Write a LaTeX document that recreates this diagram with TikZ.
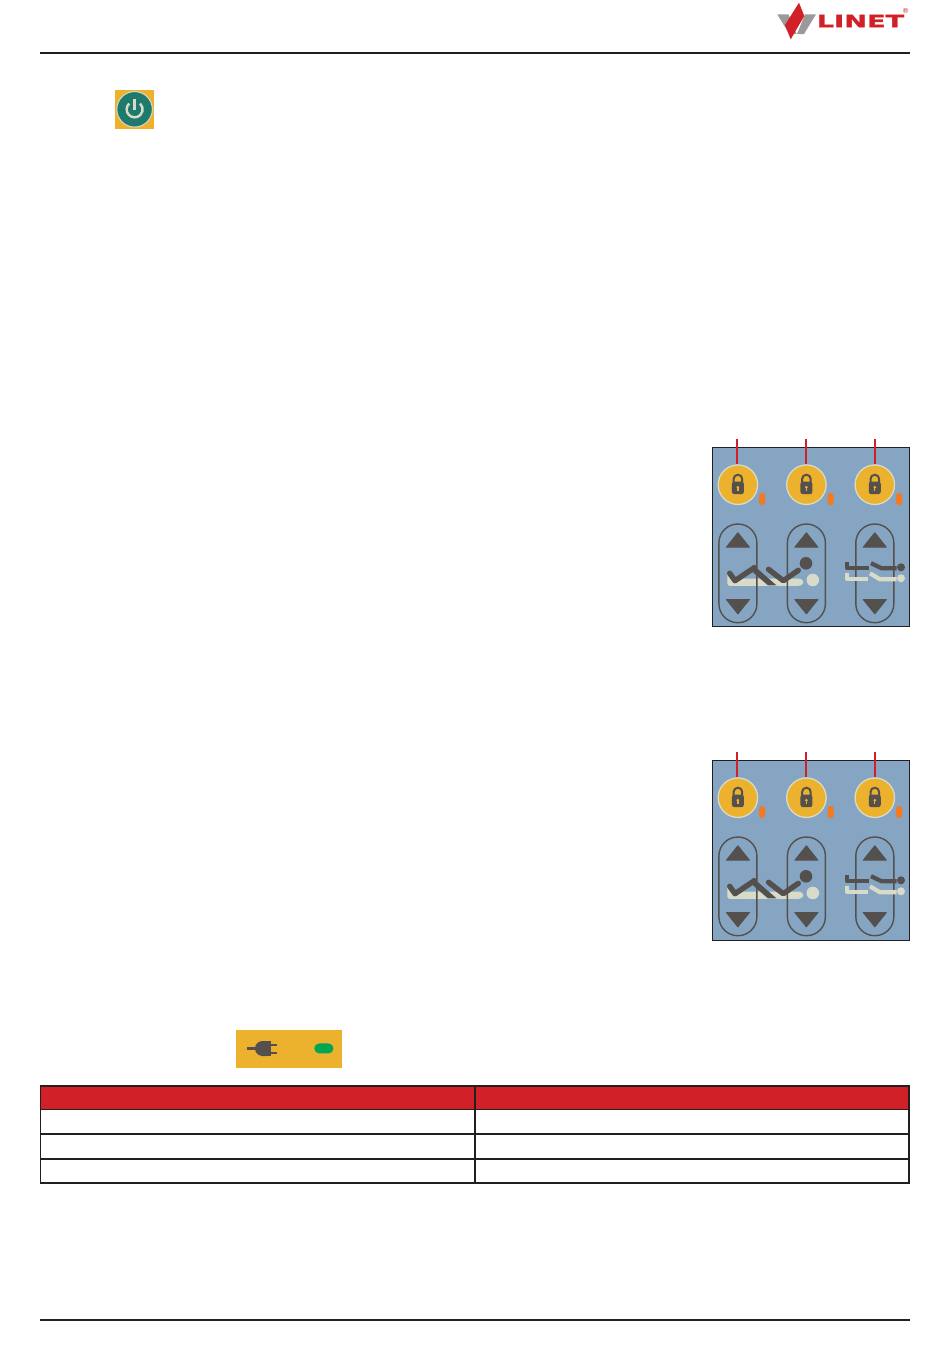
\documentclass[tikz,border=0pt]{standalone}
\usepackage{fontspec}
\setmainfont{DejaVu Sans}
\newfontfamily\logofont[BoldFeatures={FakeBold=1.2}]{DejaVu Sans}
\definecolor{ink}{HTML}{231F20}
\definecolor{brandred}{HTML}{D12027}
\definecolor{logogray}{HTML}{9A9A9A}
\definecolor{panelblue}{HTML}{85A5C2}
\definecolor{amber}{HTML}{EDB22D}
\definecolor{creamy}{HTML}{D8DBC8}
\definecolor{slate}{HTML}{53504E}
\definecolor{ledorange}{HTML}{F47920}
\definecolor{ledgreen}{HTML}{00A651}
\definecolor{powerteal}{HTML}{1F7A6E}
\tikzset{
  rulebar/.style={draw=ink,line width=1.5pt},
  lockbtn/.style={circle,fill=amber,draw=creamy,line width=1.3pt,minimum size=39.5pt,inner sep=0pt},
  leader/.style={draw=brandred,line width=1.7pt},
  ledpill/.style={fill=ledorange,rounded corners=2.6pt},
  capsule/.style={draw=slate,line width=1.4pt,rounded corners=18.9pt},
  arrowtri/.style={fill=slate,draw=slate,line width=1pt,line join=round},
  darkstroke/.style={draw=slate,line width=5.4pt,line join=round,line cap=round},
  creamstroke/.style={draw=creamy,line width=4.2pt,line join=round},
  darkthin/.style={draw=slate,line width=4.2pt,line join=round},
  tablegrid/.style={draw=ink,line width=1.5pt},
}
\newcommand{\panelcolumn}[4]{%
  % #1 name, #2 x of button centre, #3 vertical offset, #4 leader x offset
  \begin{scope}[shift={(#2,#3)}]
    \draw[capsule] (-19,524) rectangle (19,622.7);
    \fill[arrowtri] (0,532.8) -- (11.5,547.2) -- (-11.5,547.2) -- cycle;
    \fill[arrowtri] (0,613.8) -- (11.5,599.5) -- (-11.5,599.5) -- cycle;
    \node[lockbtn] (#1) at (0,484.7) {};
    \coordinate (#1top) at (#4,439);
    \draw[leader] (#1top) -- (#1top |- #1.north);
    \draw[slate,line width=2pt] (-4.3,482) -- (-4.3,479) arc[start angle=180,end angle=360,radius=4.3] -- (4.3,482);
    \fill[slate,rounded corners=2.5pt] (-6,481.5) rectangle (6,494.2);
    \fill[amber] (0,487.2) circle[radius=1.5];
    \fill[amber] (-0.6,487.2) rectangle (0.6,491);
    \fill[ledpill] (21.3,493) rectangle (27.3,505);
  \end{scope}%
}
\newcommand{\bedpanel}[3]{%
  % #1 name prefix, #2 vertical offset, #3 bottom edge
  \begin{scope}[shift={(0,#2)}]
    \draw[draw=ink,fill=panelblue,line width=1pt] (712.7,447.7) rectangle (909.4,#3);
    % cream bed (first figure)
    \fill[creamy,rounded corners=2.5pt] (727.3,572.5) -- (727.3,585.8) -- (801,585.8) -- (804.3,582.2) -- (801,578.5) -- (731,578.5) -- (731,572.5) -- cycle;
    \fill[creamy] (812.8,580) circle[radius=6.3];
    \panelcolumn{#1a}{737.9}{0}{-1.2}
    \panelcolumn{#1b}{806.4}{0}{-0.4}
    \panelcolumn{#1c}{874.8}{0}{-0.1}
    % dark figure
    \draw[darkstroke] (729.7,573.3) -- (735,580.7) -- (754.3,567.7);
    \fill[slate] (753,564.8) -- (776.5,585.4) -- (768,585.4) -- (751.5,571) -- cycle;
    \draw[darkstroke] (768.5,569.3) -- (783.3,580.7) -- (798.3,570.3);
    \fill[slate] (806,563.3) circle[radius=6.3];
    % side figure: dark
    \draw[darkthin] (847.3,561.5) -- (847.3,568.3) -- (869,568.3);
    \draw[darkthin] (871,563.2) -- (881.7,568.3) -- (896.7,568.3);
    \fill[slate] (901,567.3) circle[radius=4];
    % side figure: cream
    \draw[creamstroke] (847.3,572.5) -- (847.3,579.3) -- (868,579.3);
    \draw[creamstroke] (870,573.3) -- (880,579.3) -- (896.7,579.3);
    \fill[creamy] (901,578.3) circle[radius=4];
  \end{scope}%
}
\begin{document}
\begin{tikzpicture}[x=1pt,y=-1pt]
\useasboundingbox (0,0) rectangle (950,1360);
\fill[white] (0,0) rectangle (950,1360);
% header and footer rules
\draw[rulebar] (40,52.8) -- (909.8,52.8);
\draw[rulebar] (40,1320) -- (909.8,1320);
% logo
\fill[logogray] (777.3,14.3) -- (788.5,14.3) -- (796.5,34) -- (789.5,34.5) -- cycle;
\fill[logogray] (816,14.3) -- (805,14.3) -- (797,34) -- (804,34) -- cycle;
\fill[brandred] (799,2.7) -- (804.3,16) -- (790.7,39.3) -- (785,25) -- cycle;
\node[inner sep=0pt,text=brandred,font=\fontsize{17}{17}\logofont\bfseries,xscale=1.6] (logotext) at (860.5,21) {LINET};
\node[inner sep=0pt,text=brandred,font=\fontsize{7}{7}\selectfont] (logoreg) at (905.7,10.8) {®};
% power button
\fill[amber] (115.3,90) rectangle (154,129);
\node[circle,fill=powerteal,draw=creamy,line width=1pt,minimum size=35.5pt,inner sep=0pt] (powerbtn) at (134.6,109.3) {};
\draw[creamy,line width=2.4pt] (129.2,103.5) arc[start angle=227,end angle=-47,radius=8];
\draw[creamy,line width=2.4pt] (134.6,98.5) -- (134.6,109.5);
% bed panels
\bedpanel{p}{0}{626.3}
\bedpanel{q}{313}{627.3}
% mains strip
\fill[amber] (236,1030) rectangle (341.6,1067.8);
\fill[slate] (246.7,1046.9) rectangle (256,1049.9);
\fill[slate,rounded corners=4pt] (270.8,1041) -- (258,1041) -- (253.8,1048.3) -- (258,1056) -- (270.8,1056) -- cycle;
\fill[slate] (270.8,1041) rectangle (265,1056);
\draw[slate,line width=2pt] (270,1045) -- (277.3,1045);
\draw[slate,line width=2pt] (270,1052.7) -- (277.3,1052.7);
\fill[ledgreen,rounded corners=4.9pt] (314.3,1043.4) rectangle (333.4,1053.4);
% table
\fill[brandred] (40.7,1086) rectangle (908.8,1109.7);
\draw[tablegrid] (40.7,1086) rectangle (908.8,1182.9);
\draw[tablegrid] (40.7,1109.7) -- (908.8,1109.7);
\draw[tablegrid] (40.7,1134) -- (908.8,1134);
\draw[tablegrid] (40.7,1159) -- (908.8,1159);
\draw[tablegrid] (475,1086) -- (475,1182.9);
\end{tikzpicture}
\end{document}
